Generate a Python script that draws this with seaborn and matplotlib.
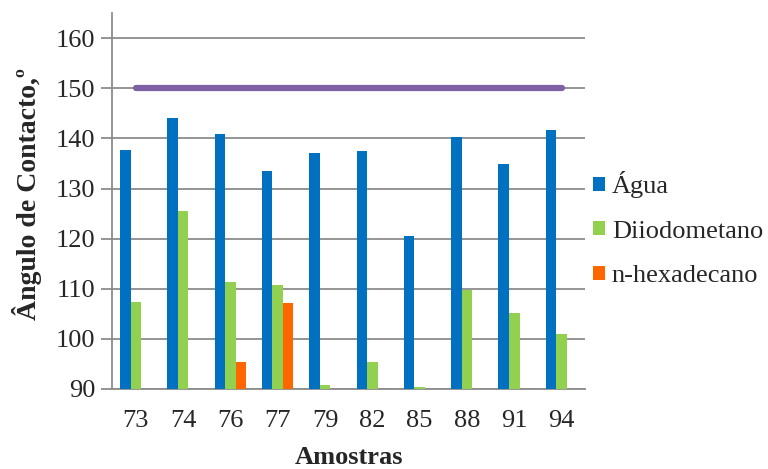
import numpy as np
import pandas as pd
import matplotlib
matplotlib.use("Agg")
import matplotlib.pyplot as plt
import seaborn as sns
from matplotlib.patches import Patch

amostras = ["73", "74", "76", "77", "79", "82", "85", "88", "91", "94"]
agua = [137.6, 144.0, 140.8, 133.4, 137.0, 137.4, 120.5, 140.3, 134.8, 141.6]
diiodometano = [107.4, 125.5, 111.4, 110.7, 90.8, 95.3, 90.4, 109.7, 105.2, 101.0]
hexadecano = [np.nan, np.nan, 95.3, 107.2, np.nan, np.nan, np.nan, np.nan, np.nan, np.nan]
limite = 150
series = ["Água", "Diiodometano", "n-hexadecano"]
colors = ["#0070C0", "#92D050", "#FF6600"]
line_color = "#7F5FA6"

rows = []
for name, vals in zip(series, [agua, diiodometano, hexadecano]):
    for a, v in zip(amostras, vals):
        rows.append({"Amostra": a, "Serie": name, "Valor": v})
df = pd.DataFrame(rows)

sns.set_style("white")
plt.rcParams['font.family'] = ['Liberation Serif', 'DejaVu Serif']

fig = plt.figure(figsize=(7.68, 4.69), dpi=100)
ax = fig.add_axes([0.146, 0.1706, 0.616, 0.8014])

sns.barplot(data=df, x="Amostra", y="Valor", hue="Serie", order=amostras,
            hue_order=series, palette=colors, width=0.667, ax=ax,
            errorbar=None, legend=False, saturation=1, edgecolor="none", zorder=3)

ax.plot([0, len(amostras) - 1], [limite, limite], color=line_color, lw=4.5,
        solid_capstyle="round", zorder=4)

ax.set_ylim(90, 165)
ax.set_yticks(np.arange(90, 161, 10))
ax.set_xlim(-0.5, len(amostras) - 0.5)
ax.yaxis.grid(True, color="#8C8C8C", lw=1.3, zorder=0)
ax.set_axisbelow(True)
for s in ["top", "right"]:
    ax.spines[s].set_visible(False)
for s in ["left", "bottom"]:
    ax.spines[s].set_color("#8C8C8C")
    ax.spines[s].set_linewidth(1.3)
ax.tick_params(axis="y", length=8, width=1.3, color="#8C8C8C", labelsize=19, pad=4, left=True)
ax.tick_params(axis="x", length=0, labelsize=19, pad=15)

ax.set_xlabel("Amostras", fontsize=19, fontweight="bold", labelpad=10)
ax.set_ylabel("Ângulo de Contacto,º", fontsize=20, fontweight="bold")
ax.yaxis.set_label_coords(-0.148, 0.52)

handles = [Patch(facecolor=c, edgecolor="none") for c in colors]
ax.legend(handles, series, loc="center left", bbox_to_anchor=(0.995, 0.425),
          frameon=False, fontsize=19, handlelength=0.45, handleheight=0.45,
          handletextpad=0.25, labelspacing=0.85, borderaxespad=0)

fig.savefig("out.png", dpi=100)
